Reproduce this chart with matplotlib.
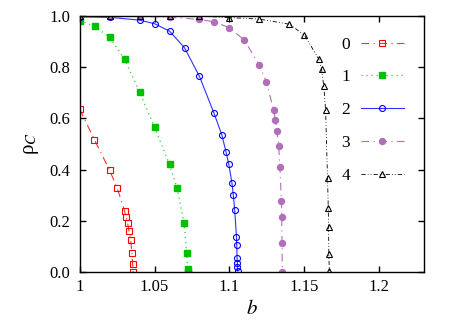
import matplotlib
matplotlib.use("Agg")
from matplotlib import pyplot as plt

# series 0..4
b0 = [1.0, 1.0098, 1.020, 1.0251, 1.030, 1.0309, 1.032, 1.0329, 1.034, 1.0349, 1.0353, 1.0357]
rho0 = [0.636, 0.517, 0.397, 0.327, 0.238, 0.216, 0.190, 0.161, 0.125, 0.075, 0.032, 0.0]

b1 = [1.0, 1.01, 1.02, 1.03, 1.04, 1.05, 1.06, 1.065, 1.0697, 1.0715, 1.072, 1.072]
rho1 = [0.982, 0.960, 0.917, 0.831, 0.703, 0.565, 0.420, 0.329, 0.191, 0.075, 0.012, 0.0]

b2 = [1.0, 1.02, 1.04, 1.05, 1.06, 1.07, 1.08, 1.0897, 1.0949, 1.0977, 1.0995,
      1.1017, 1.1026, 1.1035, 1.1047, 1.1049, 1.1051, 1.1053, 1.1053, 1.1055]
rho2 = [0.997, 0.995, 0.984, 0.970, 0.941, 0.876, 0.764, 0.620, 0.536, 0.470, 0.423,
        0.346, 0.300, 0.242, 0.138, 0.104, 0.056, 0.036, 0.021, 0.004]

b3 = [1.0, 1.02, 1.04, 1.06, 1.08, 1.09, 1.10, 1.11, 1.12, 1.1247, 1.1295, 1.1307,
      1.1317, 1.1329, 1.1337, 1.1347, 1.1349, 1.1351, 1.1353]
rho3 = [1.0, 1.0, 0.999, 0.995, 0.987, 0.977, 0.954, 0.906, 0.807, 0.743, 0.632, 0.595,
        0.551, 0.493, 0.410, 0.276, 0.216, 0.114, 0.0]

b4 = [1.0, 1.02, 1.04, 1.06, 1.08, 1.10, 1.12, 1.14, 1.15, 1.1597, 1.1615, 1.163,
      1.1642, 1.1655, 1.166, 1.1662, 1.1664, 1.1667]
rho4 = [1.0, 1.0, 1.0, 1.0, 1.0, 0.994, 0.988, 0.968, 0.926, 0.832, 0.793, 0.727,
        0.633, 0.366, 0.249, 0.177, 0.069, 0.005]

labels = ["0", "1", "2", "3", "4"]
xticks = [1.0, 1.05, 1.1, 1.15, 1.2]
xticklabels = ["1", "1.05", "1.1", "1.15", "1.2"]
yticks = [0.0, 0.2, 0.4, 0.6, 0.8, 1.0]

plt.rcParams['font.family'] = ['Liberation Serif', 'DejaVu Serif']
plt.rcParams['mathtext.fontset'] = 'stix'

fig = plt.figure(figsize=(4.58, 3.24), dpi=100)
ax = fig.add_axes([0.174, 0.1605, 0.752, 0.79])

ax.plot(b0, rho0, color='#ff3030', lw=0.8, dashes=(7, 4, 1, 4),
        marker='s', ms=4.3, mfc='none', mec='#ff0000', mew=0.8, label=labels[0])
ax.plot(b1, rho1, color='#30d030', lw=0.9, dashes=(1, 3),
        marker='s', ms=4.3, mfc='#00c000', mec='#00c000', label=labels[1])
ax.plot(b2, rho2, color='#3030ff', lw=0.8, linestyle='-',
        marker='o', ms=4.3, mfc='none', mec='#0000ff', mew=0.8, label=labels[2])
ax.plot(b3, rho3, color='#b070b8', lw=0.8, dashes=(7, 4, 1, 4),
        marker='o', ms=4.3, mfc='#b070b8', mec='#b070b8', label=labels[3])
ax.plot(b4, rho4, color='#000000', lw=0.6, dashes=(5, 2.5, 1, 2.5, 1, 2.5),
        marker='^', ms=3.8, mfc='none', mec='#000000', mew=0.8, label=labels[4])

ax.set_xlim(1.0, 1.23)
ax.set_ylim(0.0, 1.0)
ax.set_xticks(xticks)
ax.set_xticklabels(xticklabels)
ax.set_yticks(yticks)
ax.set_yticklabels(["%.1f" % v for v in yticks])
ax.tick_params(axis='both', direction='in', top=True, right=True, length=4, width=1,
               labelsize=12)
ax.tick_params(axis='x', pad=5)
ax.tick_params(axis='y', pad=7)
for s in ax.spines.values():
    s.set_linewidth(1.0)

ax.set_xlabel(r'$b$', fontsize=15, labelpad=4)
ax.set_ylabel('ρ$_C$', fontsize=15, labelpad=6)

ax.legend(loc='upper right', bbox_to_anchor=(0.942, 0.92), frameon=False,
          markerfirst=False, fontsize=12.5, handlelength=2.5, labelspacing=0.96,
          handletextpad=0.6, borderpad=0, borderaxespad=0)

fig.savefig("out.png", dpi=100)
